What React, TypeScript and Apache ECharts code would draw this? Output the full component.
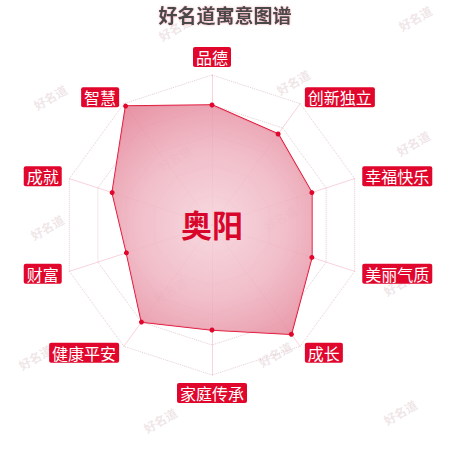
import { useEffect, useRef } from 'react';
import * as echarts from 'echarts';

// indicators, counter-clockwise from the top (ECharts radar order)
const indicatorNames = ['品德', '智慧', '成就', '财富', '健康平安', '家庭传承', '成长', '美丽气质', '幸福快乐', '创新独立'];
const scores = [80, 98, 70, 60, 80, 70, 90, 70, 70, 75];
const maxScore = 100;
const nameText = '奥阳';
const titleText = '好名道寓意图谱';
const watermarkText = '好名道';
const watermarkSpots = [
  [175, 28], [415, 18], [50, 97], [293, 82], [175, 158], [413, 143],
  [47, 227], [280, 218], [170, 290], [400, 283], [35, 357], [275, 354],
  [160, 420], [400, 412],
];

export default function App() {
  const chartRef = useRef<HTMLDivElement>(null);

  useEffect(() => {
    if (!chartRef.current) return;
    const chart = echarts.init(chartRef.current, undefined, { renderer: 'svg' });

    const watermarks = watermarkSpots.map(([x, y]) => ({
      type: 'text',
      x,
      y,
      rotation: Math.PI / 6,
      z: -10,
      silent: true,
      style: {
        text: watermarkText,
        fill: 'rgba(215, 190, 196, 0.4)',
        font: 'bold 12px "Noto Sans CJK SC"',
        textAlign: 'center',
        textVerticalAlign: 'middle',
      },
    }));

    const option: echarts.EChartsOption = {
      animation: false,
      backgroundColor: '#fff',
      textStyle: { fontFamily: '"Noto Sans CJK SC", sans-serif' },
      title: {
        text: titleText,
        left: 'center',
        top: 0,
        textStyle: {
          color: '#4a4a4a',
          fontSize: 19,
          fontWeight: 'bold',
          textShadowColor: 'rgba(230, 120, 140, 0.6)',
          textShadowBlur: 2,
        },
      },
      graphic: [
        ...watermarks,
        {
          type: 'text',
          x: 212,
          y: 223,
          z: 100,
          style: {
            text: nameText,
            fill: '#d9062c',
            font: 'bold 31px "Noto Sans CJK SC"',
            textAlign: 'center',
            textVerticalAlign: 'middle',
          },
        },
      ] as any,
      radar: {
        center: [212, 225],
        radius: 150,
        shape: 'polygon',
        splitNumber: 5,
        nameGap: 8,
        indicator: indicatorNames.map(name => ({ name, max: maxScore })),
        axisName: {
          color: '#fff',
          backgroundColor: '#e1062c',
          borderRadius: 2,
          padding: [2, 3],
          fontSize: 16,
        },
        axisLine: {
          lineStyle: { color: 'rgba(230, 110, 135, 0.3)', width: 1 },
        },
        splitLine: {
          lineStyle: { color: 'rgba(215, 185, 192, 0.7)', type: 'dotted', width: 1 },
        },
        splitArea: { show: false },
      },
      series: [
        {
          type: 'radar',
          symbol: 'circle',
          symbolSize: 5,
          itemStyle: { color: '#e1062c' },
          lineStyle: { color: '#e1062c', width: 1.5 },
          areaStyle: {
            opacity: 0.88,
            color: new echarts.graphic.RadialGradient(212, 225, 150, [
              { offset: 0, color: '#f6d4dc' },
              { offset: 0.5, color: '#efb5c2' },
              { offset: 1, color: '#e48195' },
            ], true),
          },
          data: [{ value: scores, name: nameText }],
        },
      ],
    };

    chart.setOption(option);
    return () => chart.dispose();
  }, []);

  return (
    <div
      ref={chartRef}
      style={{ position: 'fixed', left: 0, top: 0, width: 450, height: 450 }}
    />
  );
}
